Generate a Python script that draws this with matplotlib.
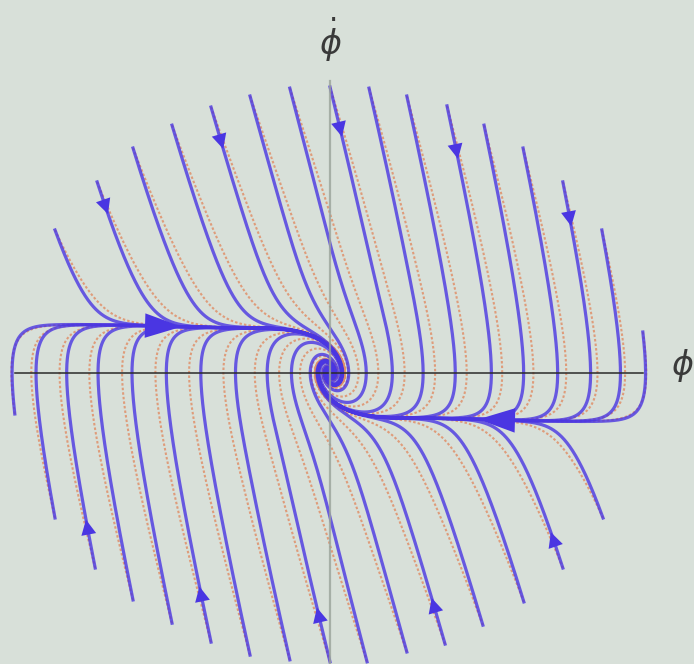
import numpy as np
import matplotlib.pyplot as plt

# =====================================================
# DATA  (start points, axis units)
# =====================================================

top_phi = [-6.98, -5.91, -5.00, -4.01, -3.02, -2.03, -1.02, 0.00,
           0.99, 1.95, 2.97, 3.91, 4.90, 5.91, 6.90, 7.94]
top_dphi = [3.63, 4.85, 5.71, 6.29, 6.75, 7.03, 7.23, 7.26,
            7.23, 7.03, 6.78, 6.29, 5.71, 4.85, 3.63, 1.04]

bot_phi = [-8.00, -6.98, -5.96, -5.00, -4.01, -3.02, -2.03, -1.02,
           0.00, 0.94, 1.95, 2.92, 3.88, 4.92, 5.91, 6.93]
bot_dphi = [-1.04, -3.68, -4.95, -5.76, -6.35, -6.83, -7.16, -7.28,
            -7.33, -7.33, -7.08, -6.88, -6.40, -5.81, -4.95, -3.68]

# lines that carry a small arrow near their start
top_arrows = [1, 4, 7, 10, 13]
bot_arrows = [2, 5, 8, 11, 14]

# system: phi'' = -g(r)*phi' - force*tanh(phi/width)
# damping is weak close to the rest point, strong further out
g_far = 4.1
g_near = 0.7
g_radius = 2.2
force = 5.1
width = 2.5
orange_scale = 0.8

BG = "#d8e0d9"
BLUE = "#4a36e2"
ORANGE = "#e0906a"


def trajectory(p0, v0, c, dt=0.002, nmax=40000):
    def rhs(s):
        r2 = s[0] ** 2 + s[1] ** 2
        g = g_far - (g_far - g_near) * np.exp(-r2 / g_radius ** 2)
        return np.array([s[1], c * (-g * s[1] - force * np.tanh(s[0] / width))])
    s = np.array([p0, v0], dtype=float)
    out = [s.copy()]
    for _ in range(nmax):
        k1 = rhs(s)
        k2 = rhs(s + 0.5 * dt * k1)
        k3 = rhs(s + 0.5 * dt * k2)
        k4 = rhs(s + dt * k3)
        s = s + dt / 6 * (k1 + 2 * k2 + 2 * k3 + k4)
        out.append(s.copy())
        if np.hypot(s[0], s[1]) < 0.005:
            break
    return np.array(out)


def arc_index(tr, dist):
    d = np.concatenate([[0], np.cumsum(np.hypot(np.diff(tr[:, 0]), np.diff(tr[:, 1])))])
    return int(np.searchsorted(d, dist))


def add_arrow(ax, tr, i, size, hl, hw):
    j = min(i + 15, len(tr) - 1)
    ax.annotate("", xy=tr[j], xytext=tr[i],
                arrowprops=dict(arrowstyle=f"-|>,head_length={hl},head_width={hw}",
                                mutation_scale=size, color=BLUE, lw=0,
                                shrinkA=0, shrinkB=0), zorder=6)


# =====================================================
# PLOT
# =====================================================

fig = plt.figure(figsize=(6.94, 6.64), dpi=100, facecolor=BG)
ax = fig.add_axes([0, 0, 1, 1])
ax.set_facecolor(BG)
ax.set_xlim(-330 / 39.4, 364 / 39.4)
ax.set_ylim(-291 / 39.4, 373 / 39.4)
ax.axis("off")

starts = list(zip(top_phi, top_dphi)) + list(zip(bot_phi, bot_dphi))

for p0, v0 in starts:
    tr = trajectory(p0, v0, orange_scale)
    ax.plot(tr[:, 0], tr[:, 1], color=ORANGE, lw=1.5,
            linestyle=(0, (1.2, 1.0)), alpha=0.85, zorder=2)

blue_top = []
blue_bot = []
for p0, v0 in zip(top_phi, top_dphi):
    tr = trajectory(p0, v0, 1.0)
    blue_top.append(tr)
    ax.plot(tr[:, 0], tr[:, 1], color=BLUE, lw=2.3, alpha=0.8, zorder=3)
for p0, v0 in zip(bot_phi, bot_dphi):
    tr = trajectory(p0, v0, 1.0)
    blue_bot.append(tr)
    ax.plot(tr[:, 0], tr[:, 1], color=BLUE, lw=2.3, alpha=0.8, zorder=3)

for i in top_arrows:
    add_arrow(ax, blue_top[i], arc_index(blue_top[i], 0.45), 12, 0.9, 0.45)
for i in bot_arrows:
    add_arrow(ax, blue_bot[i], arc_index(blue_bot[i], 0.55), 12, 0.9, 0.45)

# big arrows on the two slow branches
tr = blue_bot[0]
add_arrow(ax, tr, int(np.argmin(np.abs(tr[:, 0] + 3.8))), 22, 1.2, 0.4)
tr = blue_top[15]
add_arrow(ax, tr, int(np.argmin(np.abs(tr[:, 0] - 3.8))), 22, 1.2, 0.4)

# axes
ax.plot([-8.0, 7.94], [0, 0], color="#2a2a2a", lw=1.1, zorder=5)
ax.plot([0, 0], [7.42, -7.4], color="#9aa39a", lw=1.6, alpha=0.8, zorder=5)

ax.text(0, 8.45, r"$\dot{\phi}$", fontsize=24, color="#3a3a3a",
        ha="center", va="center")
ax.text(8.95, 0.2, r"$\phi$", fontsize=24, color="#3a3a3a",
        ha="center", va="center")

fig.savefig("out.png", dpi=100, facecolor=BG)
